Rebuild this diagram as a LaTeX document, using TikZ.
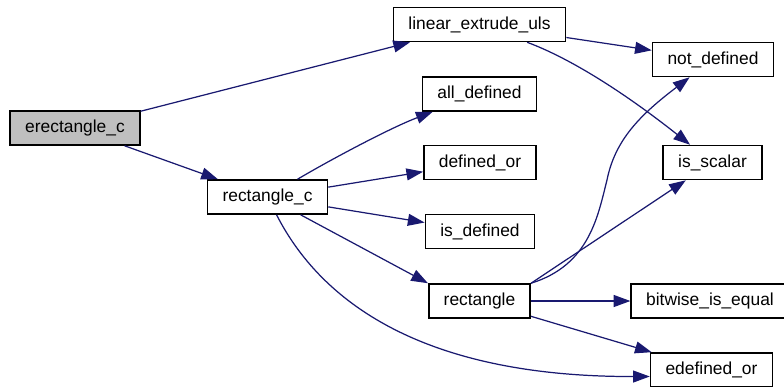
\documentclass[tikz,border=0pt]{standalone}
\usepackage{fontspec}
\setmainfont{Liberation Sans}
\usepackage{tikz}
\usetikzlibrary{arrows.meta}
\definecolor{edgeblue}{RGB}{25,25,112}
\definecolor{rootgray}{RGB}{191,191,191}

\begin{document}
\begin{tikzpicture}[x=0.02cm,y=-0.02cm,
    fn/.style={draw=black,line width=0.9pt,fill=white,minimum height=0.68cm,
      inner xsep=0.3cm,font=\fontsize{9.9}{12}\selectfont},
    root/.style={fn,fill=rootgray},
    call/.style={-{Triangle[length=9.5pt,width=6.8pt]},color=edgeblue,line width=0.7pt}]
  \clip (0,0) rectangle (784,386);
  % Functions
  \node[root] (erectc)   at (75,128)    {erectangle\_c};
  \node[fn]   (linext)   at (479.5,24.5) {linear\_extrude\_uls};
  \node[fn]   (alldef)   at (479.5,94)  {all\_defined};
  \node[fn]   (defor)    at (480,162.5) {defined\_or};
  \node[fn]   (isdef)    at (480,231.5) {is\_defined};
  \node[fn]   (rectc)    at (267.5,197) {rectangle\_c};
  \node[fn]   (rect)     at (479.5,301) {rectangle};
  \node[fn]   (notdef)   at (713,59.5)  {not\_defined};
  \node[fn]   (isscalar) at (712.5,162.5) {is\_scalar};
  \node[fn]   (biteq)    at (710,301)   {bitwise\_is\_equal};
  \node[fn]   (edefor)   at (711.5,370) {edefined\_or};
  % Calls
  \draw[call] (erectc) -- (linext);
  \draw[call] (erectc) -- (rectc);
  \draw[call] (linext) -- (notdef);
  \draw[call] (linext) .. controls (580,62) and (640,105) .. (isscalar);
  \draw[call] (rectc) .. controls (330,160) and (390,128) .. (alldef);
  \draw[call] (rectc) -- (defor);
  \draw[call] (rectc) -- (isdef);
  \draw[call] (rectc) -- (rect.north west);
  \draw[call] (rectc) .. controls (320,300) and (420,377) .. (edefor.186);
  \draw[call] (rect.north east) .. controls (590,265) and (598,215) .. (607,180)
    .. controls (615,140) and (640,115) .. (notdef);
  \draw[call] (rect.north east) -- (isscalar);
  \draw[call] (rect) -- (biteq);
  \draw[call] (rect) -- (edefor);
\end{tikzpicture}
\end{document}
